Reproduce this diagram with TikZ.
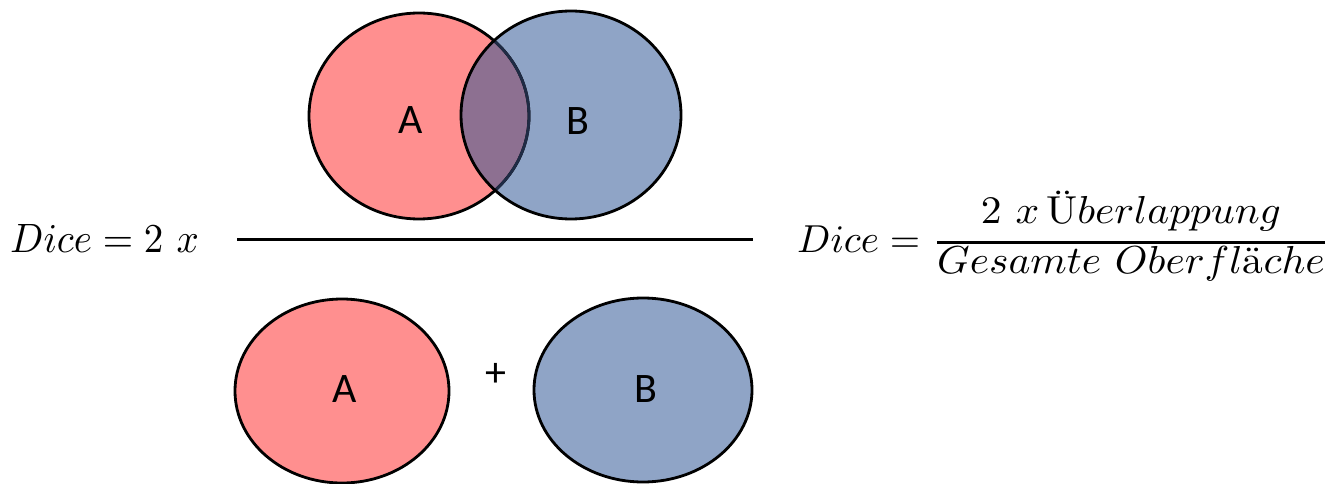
\documentclass[tikz,border=0pt]{standalone}
\usepackage{fontspec}
\usepackage{graphicx}
\newfontfamily\lblfont{Carlito}
\definecolor{afill}{HTML}{FF8F8F}
\definecolor{bfill}{HTML}{8FA4C6}
\definecolor{abfill}{HTML}{8D7091}
\definecolor{abedge}{HTML}{1F2B45}
\tikzset{
  outline/.style={draw=black, line width=2.8pt},
  lbl/.style={font=\lblfont\fontsize{42}{50}\selectfont, inner sep=0pt},
  formula/.style={inner sep=0pt},
}
\begin{document}
\begin{tikzpicture}[x=1pt,y=-1pt]
\useasboundingbox (0,0) rectangle (1341,484);
% top Venn
\fill[afill] (419,116) ellipse [x radius=110pt, y radius=103pt];
\fill[bfill] (571,115) ellipse [x radius=110pt, y radius=104pt];
\begin{scope}
  \clip (419,116) ellipse [x radius=110pt, y radius=103pt];
  \fill[abfill] (571,115) ellipse [x radius=110pt, y radius=104pt];
\end{scope}
\draw[outline] (419,116) ellipse [x radius=110pt, y radius=103pt];
\begin{scope}
  \clip (571,115) ellipse [x radius=110pt, y radius=104pt];
  \draw[draw=abedge, line width=2.8pt] (419,116) ellipse [x radius=110pt, y radius=103pt];
\end{scope}
\draw[outline] (571,115) ellipse [x radius=110pt, y radius=104pt];
\node[lbl] (tA) at (411,120) {A};
\node[lbl] (tB) at (578,121) {B};
% fraction bar
\coordinate (barL) at (237,239);
\coordinate (barR) at (753,239);
\draw[line width=3pt] (barL) -- (barR);
% bottom circles
\draw[outline, fill=afill] (342,391) ellipse [x radius=107pt, y radius=92pt];
\draw[outline, fill=bfill] (643,390) ellipse [x radius=109pt, y radius=92pt];
\node[lbl] (bA) at (345,389) {A};
\node[lbl] (bB) at (646,389) {B};
\node[lbl] (plus) at (496,375) {+};
% formulas
\node[formula, anchor=base west] (left) at (10,252) {\scalebox{3.9}[4.1]{$Dice = 2\ x$}};
\node[formula, anchor=base west] (right) at (797,252) {\scalebox{3.9}{$Dice =$}\hspace{12pt}\scalebox{4.15}[3.9]{$\displaystyle{2\ x\,\mbox{\normalfont Ü}berlappung\rule[-3.8pt]{0pt}{3.8pt}}\above 0.7pt\displaystyle{Gesamte\ Oberfl\mbox{\normalfont ä}che}$}};
\end{tikzpicture}
\end{document}
